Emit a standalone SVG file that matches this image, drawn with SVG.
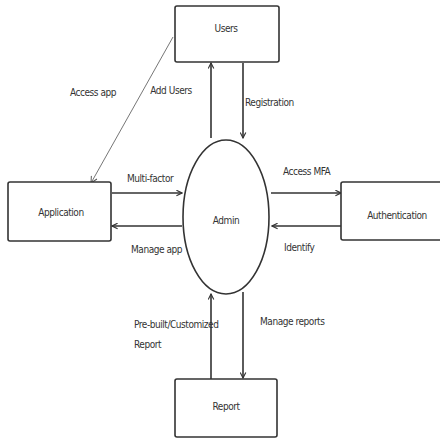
<svg xmlns="http://www.w3.org/2000/svg" width="440" height="438" viewBox="0 0 440 438">
<defs>
<marker id="arr" viewBox="0 0 10 10" refX="9" refY="5" markerWidth="7" markerHeight="7" markerUnits="userSpaceOnUse" orient="auto">
<path d="M1,1 L9,5 L1,9" fill="none" stroke="#333" stroke-width="1.6"/>
</marker>
<marker id="arrThin" viewBox="0 0 10 10" refX="9" refY="5" markerWidth="8" markerHeight="8" markerUnits="userSpaceOnUse" orient="auto">
<path d="M1,1 L9,5 L1,9" fill="none" stroke="#555" stroke-width="1.2"/>
</marker>
</defs>
<style>
.box{fill:#fff;stroke:#333;stroke-width:1.6}
.t{font-family:"Liberation Sans Narrow","DejaVu Sans Condensed","Liberation Sans",sans-serif;font-size:10px;letter-spacing:-0.45px;fill:#333}
.c{text-anchor:middle}
.ln{stroke:#333;stroke-width:1.6;fill:none;marker-end:url(#arr)}
</style>
<rect width="440" height="438" fill="#fff"/>
<g id="connectors">
<line class="ln" x1="211" y1="138" x2="211" y2="63"/>
<line class="ln" x1="243" y1="63" x2="243" y2="138"/>
<line class="ln" x1="112" y1="193" x2="182" y2="193"/>
<line class="ln" x1="182" y1="226" x2="112" y2="226"/>
<line class="ln" x1="271" y1="193" x2="341" y2="193"/>
<line class="ln" x1="341" y1="226" x2="272" y2="226"/>
<line class="ln" x1="211" y1="379" x2="211" y2="294"/>
<line class="ln" x1="243" y1="292" x2="243" y2="378"/>
<line x1="173" y1="37" x2="91" y2="183" stroke="#666" stroke-width="0.9" fill="none" marker-end="url(#arrThin)"/>
</g>
<g id="labels">
<text class="t c" x="93" y="96">Access app</text>
<text class="t c" x="171" y="94">Add Users</text>
<text class="t" x="245" y="106">Registration</text>
<text class="t" x="127" y="182">Multi-factor</text>
<text class="t" x="283" y="175">Access MFA</text>
<text class="t" x="131" y="253">Manage app</text>
<text class="t" x="284" y="251">Identify</text>
<text class="t" x="134" y="328">Pre-built/Customized</text>
<text class="t" x="134" y="348">Report</text>
<text class="t" x="260" y="325">Manage reports</text>
</g>
<g id="users"><rect class="box" x="175" y="6" width="104" height="56" rx="2"/><text class="t c" x="226" y="32">Users</text></g>
<g id="application"><rect class="box" x="8" y="182" width="103" height="59" rx="2"/><text class="t c" x="61" y="216">Application</text></g>
<g id="authentication"><rect class="box" x="341" y="182" width="104" height="58" rx="2"/><text class="t c" x="397" y="219">Authentication</text></g>
<g id="admin"><ellipse class="box" cx="226" cy="217" rx="43" ry="77"/><text class="t c" x="226" y="224">Admin</text></g>
<g id="report"><rect class="box" x="175" y="379" width="102" height="58" rx="2"/><text class="t c" x="226" y="410">Report</text></g>
</svg>
